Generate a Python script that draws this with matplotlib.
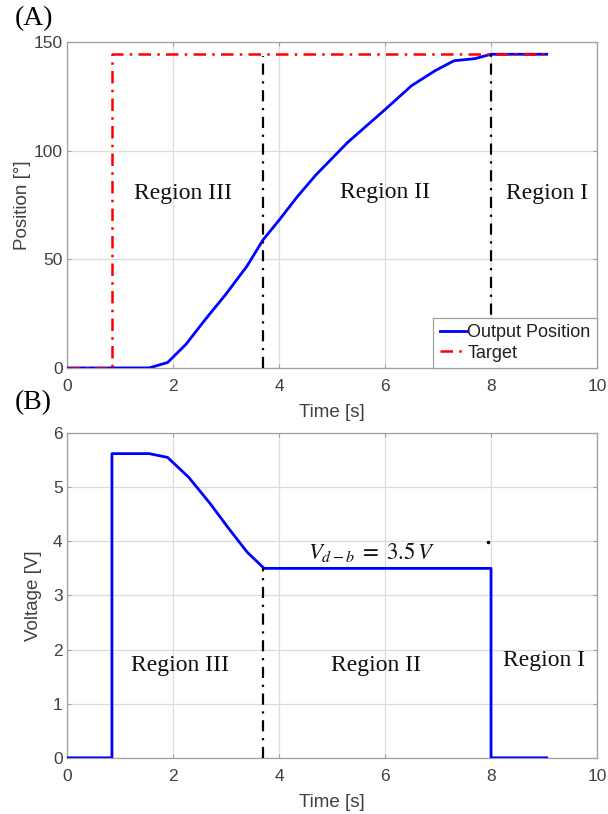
import matplotlib
matplotlib.use("Agg")
import matplotlib.pyplot as plt

plt.rcParams['mathtext.fontset'] = 'stix'

# Panel A: output position vs target
t_pos = [0, 1.55, 1.9, 2.25, 2.6, 3.0, 3.4, 3.7, 4.0, 4.35, 4.7, 5.3, 6.0, 6.5, 6.95, 7.3, 7.7, 8.0, 9.05]
pos = [0, 0, 2.5, 11, 22, 34, 47, 59, 68, 79, 89, 104, 119, 130, 137, 141.5, 142.5, 144.5, 144.5]
t_target = [0, 0.85, 0.85, 9.05]
target = [0, 0, 144.5, 144.5]

# Panel B: voltage
t_volt = [0, 0.85, 0.85, 1.55, 1.9, 2.3, 2.7, 3.05, 3.4, 3.72, 8.0, 8.0, 9.05]
volt = [0, 0, 5.62, 5.62, 5.55, 5.18, 4.7, 4.24, 3.8, 3.5, 3.5, 0, 0]

boundaries_a = [(3.7, 143.5), (8.0, 144.5)]
boundary_b = (3.7, 3.5)
stray_dot_b = (7.94, 3.98)

regions = ["Region III", "Region II", "Region I"]
region_x_a = [2.19, 6.0, 9.06]
region_y_a = [80.5, 81, 80.5]
region_x_b = [2.13, 5.83, 9.0]
region_y_b = [1.7, 1.7, 1.8]

xticks = [0, 2, 4, 6, 8, 10]
yticks_a = [0, 50, 100, 150]
yticks_b = [0, 1, 2, 3, 4, 5, 6]

fig = plt.figure(figsize=(6.08, 8.14), dpi=100)
ax1 = fig.add_axes([0.110, 0.548, 0.872, 0.400])
ax2 = fig.add_axes([0.110, 0.069, 0.872, 0.399])

tick_color = '#404040'
serif = ['Liberation Serif', 'DejaVu Serif']
sans = ['Liberation Sans', 'DejaVu Sans']

def style(ax):
    ax.grid(True, color='#dcdcdc', linewidth=0.9)
    ax.set_axisbelow(True)
    for s in ax.spines.values():
        s.set_color('#a0a0a0')
        s.set_linewidth(0.9)
    ax.tick_params(direction='in', length=3, colors='#a0a0a0', labelcolor=tick_color,
                   labelsize=12.5, top=True, right=True)
    ax.tick_params(axis='x', pad=8)
    ax.tick_params(axis='y', pad=3)
    for lab in ax.get_xticklabels() + ax.get_yticklabels():
        lab.set_family(sans)

# Panel A
ax1.plot(t_pos, pos, color='#0000ff', lw=2.0, label='Output Position', zorder=3)
ax1.plot(t_target, target, color='#ff0000', lw=1.8, linestyle=(0, (5, 2.5, 1, 2.5)),
         label='Target', zorder=4)
for bx, by in boundaries_a:
    ax1.plot([bx, bx], [0, by], color='black', lw=1.6, linestyle=(0, (5, 3, 1, 3)), zorder=5)
ax1.set_xlim(0, 10)
ax1.set_ylim(0, 150)
ax1.set_xticks(xticks)
ax1.set_yticks(yticks_a)
style(ax1)
ax1.set_xlabel('Time [s]', family=sans, fontsize=13.5, color=tick_color, labelpad=7)
ax1.set_ylabel('Position [°]', family=sans, fontsize=13.5, color=tick_color, labelpad=2)
for name, x, y in zip(regions, region_x_a, region_y_a):
    ax1.text(x, y, name, family=serif, fontsize=17, ha='center', va='center', color='#111111')
leg = ax1.legend(loc='lower right', prop={'family': sans, 'size': 13}, fancybox=False,
                 framealpha=1, edgecolor='#a0a0a0', borderaxespad=0.0, handlelength=1.5,
                 handletextpad=0.05, borderpad=0.35, labelspacing=0.2)
leg.get_frame().set_linewidth(0.9)
for txt in leg.get_texts():
    txt.set_color('#202020')

# Panel B
ax2.plot(t_volt, volt, color='#0000ff', lw=2.0, zorder=3)
ax2.plot([boundary_b[0], boundary_b[0]], [0, boundary_b[1]], color='black', lw=1.6,
         linestyle=(0, (5, 3, 1, 3)), zorder=5)
ax2.plot([stray_dot_b[0]], [stray_dot_b[1]], 'o', color='black', ms=1.5, zorder=5)
ax2.set_xlim(0, 10)
ax2.set_ylim(0, 6)
ax2.set_xticks(xticks)
ax2.set_yticks(yticks_b)
style(ax2)
ax2.set_xlabel('Time [s]', family=sans, fontsize=13.5, color=tick_color, labelpad=7)
ax2.set_ylabel('Voltage [V]', family=sans, fontsize=13.5, color=tick_color, labelpad=8)
for name, x, y in zip(regions, region_x_b, region_y_b):
    ax2.text(x, y, name, family=serif, fontsize=17, ha='center', va='center', color='#111111')
ax2.text(5.75, 3.8, r'$V_{d-b}\;=\;3.5\,V$', fontsize=16.5, ha='center', va='center', color='#111111')

fig.text(0.025, 0.977, '(A)', family=serif, fontsize=20, ha='left', va='center')
fig.text(0.025, 0.505, '(B)', family=serif, fontsize=20, ha='left', va='center')

fig.savefig('out.png', dpi=100)
